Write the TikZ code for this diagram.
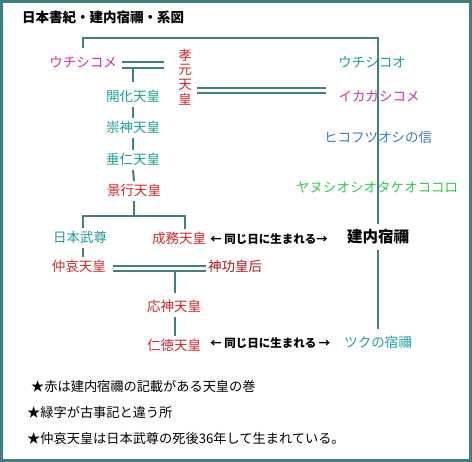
\documentclass[tikz,border=0pt]{standalone}
\usepackage{fontspec}
\setmainfont{Noto Sans CJK JP}
\usetikzlibrary{calc}
\pgfdeclarelayer{bg}
\pgfsetlayers{bg,main}
\definecolor{lineC}{HTML}{3F7F7F}
\definecolor{tealT}{HTML}{1E9E9E}
\definecolor{magT}{HTML}{D030B0}
\definecolor{redT}{HTML}{D42828}
\definecolor{dredT}{HTML}{A81818}
\definecolor{blueT}{HTML}{3A80B4}
\definecolor{greenT}{HTML}{30CC50}
\begin{document}
\begin{tikzpicture}[x=1pt,y=-1pt,
  nm/.style={inner xsep=2pt, inner ysep=3pt, text height=11pt, text depth=2.5pt,
             font=\fontsize{13.5}{15}\selectfont},
  ln/.style={draw=lineC, line width=2pt},
  same/.style={inner sep=1pt, font=\fontsize{11.5}{13}\selectfont\bfseries, anchor=west},
  note/.style={inner sep=0pt, anchor=west, font=\fontsize{13.2}{15}\selectfont}]
\useasboundingbox (0,0) rectangle (472,462);

% title
\node[anchor=west, inner sep=0pt, font=\fontsize{13.5}{15}\selectfont\bfseries] (title) at (22,17) {日本書紀・建内宿禰・系図};

% left column
\node[nm, text=magT] (ume) at (83,63) {ウチシコメ};
\node[nm, text=redT, align=center, inner xsep=1pt, font=\fontsize{13.5}{14.6}\selectfont, text height=, text depth=] (kogen) at (185,77) {孝\\元\\天\\皇};
\node[nm, text=tealT] (kaika) at (133,97) {開化天皇};
\node[nm, text=tealT] (sujin) at (133,128) {崇神天皇};
\node[nm, text=tealT] (suinin) at (133,160) {垂仁天皇};
\node[nm, text=redT] (keiko) at (134,191) {景行天皇};
\node[nm, text=tealT] (yamato) at (80,238) {日本武尊};
\node[nm, text=redT] (seimu) at (179,239) {成務天皇};
\node[nm, text=redT] (chuai) at (79,267) {仲哀天皇};
\node[nm, text=dredT, anchor=west] (jingu) at (206,267) {神功皇后};
\node[nm, text=redT] (ojin) at (174,307) {応神天皇};
\node[nm, text=redT] (nintoku) at (174,346) {仁徳天皇};

% right column
\node[nm, text=tealT] (uchio) at (372,63) {ウチシコオ};
\node[nm, text=magT] (ikaga) at (379,97) {イカガシコメ};
\node[nm, text=blueT] (hiko) at (378,138) {ヒコフツオシの信};
\node[nm, text=greenT] (yanu) at (377,188) {ヤヌシオシオタケオココロ};
\node[inner xsep=2pt, inner ysep=5pt, font=\fontsize{15.5}{17}\selectfont\bfseries] (take) at (378,237) {建内宿禰};
\node[nm, text=tealT] (tsuku) at (378,343) {ツクの宿禰};

% same-day labels
\node[same] (same1) at (209,239) {← 同じ日に生まれる→};
\node[same] (same2) at (209,343) {← 同じ日に生まれる →};

% notes
\node[note] (n1) at (31,386) {★赤は建内宿禰の記載がある天皇の巻};
\node[note] (n2) at (27,412) {★緑字が古事記と違う所};
\node[note] (n3) at (27,438) {★仲哀天皇は日本武尊の死後36年して生まれている。};

\begin{pgfonlayer}{bg}
\fill[white] (0,0) rectangle (472,462);
\draw[draw=lineC, line width=2.6pt] (1.3,1.3) rectangle (470.7,460.5);

% connectors
\coordinate (tr) at (378,38);
\draw[ln] ($(ume.north)+(0,-5)$) |- (tr) -- (take.north);
\draw[ln] (take.south) -- ($(tsuku.north)+(0,-4)$);

% ume = kogen double line
\draw[ln] ($(ume.east)+(3,-1)$) -- ($(kogen.west |- ume.east)+(-13,-1)$);
\draw[ln] ($(ume.east)+(3,5)$) -- ($(kogen.west |- ume.east)+(-13,5)$);
\draw[ln] ($(kaika.north |- ume.east)+(0,6)$) -- ($(kaika.north)+(0,-5)$);

% kogen = ikaga double line
\draw[ln] ($(kogen.east |- ikaga.west)+(4,-9)$) -- ($(ikaga.west)+(-10,-9)$);
\draw[ln] ($(kogen.east |- ikaga.west)+(4,-3.5)$) -- ($(ikaga.west)+(-10,-3.5)$);

% main line
\draw[ln] (kaika.south) -- (sujin.north);
\draw[ln] (sujin.south) -- (suinin.north);
\draw[ln] (suinin.south) -- (keiko.north);
\coordinate (ty) at (83,216);
\coordinate (ts) at (185,216);
\draw[ln] (keiko.south) -- (keiko.south |- ty);
\draw[ln] (ty |- yamato.north) -- (ty) -- (ts) -- (ts |- seimu.north);
\draw[ln] (ty |- yamato.south) -- (ty |- chuai.north);

% chuai = jingu double line
\draw[ln] ($(chuai.east)+(5,-0.5)$) -- ($(jingu.west)+(0,-0.5)$);
\draw[ln] ($(chuai.east)+(5,4.5)$) -- ($(jingu.west)+(0,4.5)$);
\draw[ln] ($(ojin.north |- chuai.east)+(1,4.5)$) -- ($(ojin.north)+(1,-4)$);
\draw[ln] ($(ojin.south)+(1,0)$) -- ($(nintoku.north)+(1,0)$);
\end{pgfonlayer}
\end{tikzpicture}
\end{document}
